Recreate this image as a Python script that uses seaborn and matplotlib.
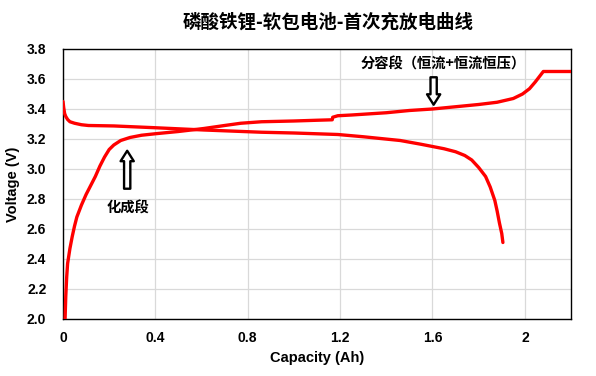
import matplotlib
matplotlib.use("Agg")
import matplotlib.pyplot as plt
import seaborn as sns
import pandas as pd

# Data
charge_cap = [0.009, 0.012, 0.016, 0.02, 0.03, 0.04, 0.05, 0.06, 0.08, 0.1, 0.12,
              0.14, 0.16, 0.18, 0.2, 0.22, 0.25, 0.29, 0.34, 0.4, 0.5, 0.61, 0.7,
              0.77, 0.86, 1.0, 1.1, 1.166, 1.168, 1.19, 1.25, 1.4, 1.5, 1.6, 1.7,
              1.8, 1.88, 1.95, 1.99, 2.02, 2.045, 2.065, 2.08, 2.2]
charge_v = [2.0, 2.15, 2.28, 2.37, 2.47, 2.55, 2.62, 2.68, 2.76, 2.83, 2.89,
            2.95, 3.02, 3.08, 3.13, 3.16, 3.19, 3.21, 3.225, 3.235, 3.25, 3.27, 3.29,
            3.305, 3.315, 3.32, 3.325, 3.328, 3.345, 3.355, 3.36, 3.375, 3.39, 3.40, 3.415,
            3.43, 3.445, 3.47, 3.50, 3.535, 3.58, 3.62, 3.65, 3.65]
discharge_cap = [0.0, 0.003, 0.007, 0.012, 0.02, 0.03, 0.05, 0.08, 0.11, 0.22, 0.4,
                 0.61, 0.86, 1.0, 1.19, 1.3, 1.46, 1.55, 1.6, 1.65, 1.7, 1.74, 1.77,
                 1.8, 1.83, 1.85, 1.87, 1.88, 1.89, 1.9, 1.905]
discharge_v = [3.45, 3.41, 3.37, 3.35, 3.33, 3.315, 3.305, 3.295, 3.29, 3.287, 3.275,
               3.26, 3.245, 3.24, 3.23, 3.215, 3.19, 3.165, 3.15, 3.135, 3.115, 3.09, 3.06,
               3.01, 2.95, 2.88, 2.79, 2.72, 2.64, 2.57, 2.51]

x_ticks = [0, 0.4, 0.8, 1.2, 1.6, 2.0]
x_tick_labels = ["0", "0.4", "0.8", "1.2", "1.6", "2"]
y_ticks = [2.0, 2.2, 2.4, 2.6, 2.8, 3.0, 3.2, 3.4, 3.6, 3.8]

title = "磷酸铁锂-软包电池-首次充放电曲线"
note_fr = "分容段（恒流+恒流恒压）"
note_hc = "化成段"

sns.set_style("white")
plt.rcParams['font.family'] = ['Liberation Sans', 'Noto Sans CJK SC', 'DejaVu Sans']

fig = plt.figure(figsize=(5.96, 3.76), dpi=100)
ax = fig.add_axes([0.1057, 0.1516, 0.8524, 0.7181])

df_c = pd.DataFrame({"cap": charge_cap, "v": charge_v})
df_d = pd.DataFrame({"cap": discharge_cap, "v": discharge_v})
sns.lineplot(data=df_c, x="cap", y="v", sort=False, estimator=None, color="#ff0000",
             lw=2.4, ax=ax, zorder=3)
sns.lineplot(data=df_d, x="cap", y="v", sort=False, estimator=None, color="#ff0000",
             lw=2.4, ax=ax, zorder=3)
for line in ax.get_lines():
    line.set_solid_joinstyle("round")
    line.set_solid_capstyle("round")

ax.set_xlim(0, 2.2)
ax.set_ylim(2.0, 3.8)
ax.set_xticks(x_ticks)
ax.set_xticklabels(x_tick_labels)
ax.set_yticks(y_ticks)
ax.set_yticklabels([f"{t:.1f}" for t in y_ticks])
ax.grid(True, color="#d9d9d9", lw=0.9)
ax.set_axisbelow(True)
for s in ax.spines.values():
    s.set_color("black")
    s.set_linewidth(1.0)
ax.tick_params(axis="both", length=0, labelsize=10, labelcolor="black")
ax.tick_params(axis="y", pad=12)
ax.tick_params(axis="x", pad=9)
for lab in ax.get_xticklabels() + ax.get_yticklabels():
    lab.set_fontweight("bold")

ax.set_xlabel("Capacity (Ah)", fontsize=10.5, fontweight="bold", labelpad=4, color="black")
ax.set_ylabel("Voltage (V)", fontsize=10.5, fontweight="bold", labelpad=5, color="black")

fig.text(0.551, 0.94, title, ha="center", va="center", fontsize=13.3, fontweight="bold",
         color="black", family=['Noto Sans CJK SC', 'DejaVu Sans'])

arrow_props = dict(arrowstyle="simple,head_width=0.95,head_length=0.75,tail_width=0.45",
                   fc="white", ec="black", lw=1.7)
ax.annotate("", xy=(1.605, 3.41), xytext=(1.605, 3.63), arrowprops=arrow_props, zorder=4)
ax.annotate("", xy=(0.278, 3.14), xytext=(0.278, 2.85), arrowprops=arrow_props, zorder=4)

ax.text(1.645, 3.695, note_fr, ha="center", va="center", fontsize=10.3, fontweight="bold",
        color="black", family=['Noto Sans CJK SC', 'DejaVu Sans'])
ax.text(0.28, 2.735, note_hc, ha="center", va="center", fontsize=10.3, fontweight="bold",
        color="black", family=['Noto Sans CJK SC', 'DejaVu Sans'])

fig.savefig("out.png", dpi=100)
